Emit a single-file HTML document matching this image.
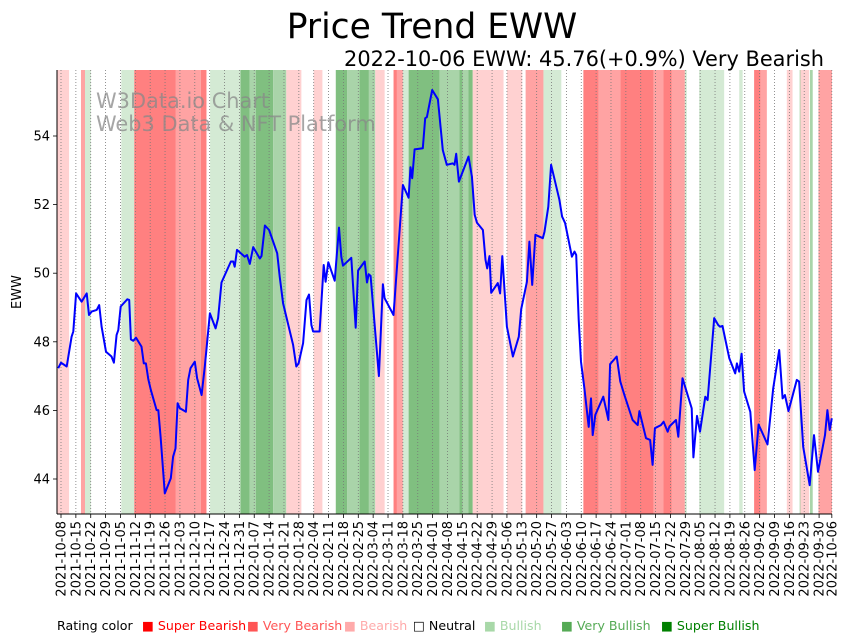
<!DOCTYPE html>
<html><head><meta charset="utf-8"><style>
body{margin:0;background:#fff;width:851px;height:641px;overflow:hidden;font-family:"DejaVu Sans","Liberation Sans",sans-serif}
svg{display:block}
</style></head><body>
<svg id="chart" width="851" height="641" xmlns="http://www.w3.org/2000/svg" font-family="DejaVu Sans, Liberation Sans, sans-serif">
<text x="432" y="38" text-anchor="middle" font-size="34.5">Price Trend EWW</text>
<text x="824" y="66" text-anchor="end" font-size="20.9">2022-10-06 EWW: 45.76(+0.9%) Very Bearish</text>
<g id="bands"></g>
<g id="grid"></g>
<g fill="#888" fill-opacity="0.75" font-size="20.9">
<text x="96" y="108">W3Data.io Chart</text>
<text x="96" y="131">Web3 Data &amp; NFT Platform</text>
</g>
<path id="line" fill="none" stroke="#0000ff" stroke-width="2" stroke-linejoin="round"/>
<g id="axes"></g>
<text transform="translate(21,292) rotate(-90)" text-anchor="middle" font-size="13">EWW</text>
<g font-size="12.6">
<text x="57" y="630" fill="#000">Rating color</text>
<text x="142" y="630" fill="#ff0000">■ Super Bearish</text>
<text x="247" y="630" fill="#ff5555">■ Very Bearish</text>
<text x="344" y="630" fill="#ffaaaa">■ Bearish</text>
<text x="413" y="630" fill="#000">□ Neutral</text>
<text x="484" y="630" fill="#a8d8a8">■ Bullish</text>
<text x="561" y="630" fill="#55aa55">■ Very Bullish</text>
<text x="661" y="630" fill="#008000">■ Super Bullish</text>
</g>
</svg>
<script>
// day offsets from 2021-10-08 and closing prices
const days=[-1.3,0,2.7,5.0,5.8,7.1,9.7,12.1,13.2,14.4,16.8,18.0,19.1,21.2,23.8,24.9,26.2,27.0,28.1,31.2,32.1,32.9,34.0,35.3,37.9,39.0,40.0,41.1,42.3,45.0,45.8,46.9,48.9,51.7,52.8,53.9,54.9,56.0,58.8,59.9,61.0,63.0,64.1,66.2,67.7,69.0,70.1,72.8,74.0,75.6,77.9,80.0,81.1,81.8,82.9,86.5,87.6,88.9,90.5,93.6,94.4,96.0,98.0,101.8,103.0,104.6,109.3,110.8,111.9,114.0,115.6,116.8,117.9,118.7,121.8,123.7,124.6,125.9,128.9,130.9,132.0,132.8,136.7,138.8,139.9,143.0,144.1,144.9,145.8,149.7,151.6,152.4,156.6,161.0,163.7,164.6,165.4,166.5,170.4,171.5,172.3,174.8,177.5,179.8,181.7,184.5,185.3,186.1,187.4,191.9,193.5,194.8,195.9,198.7,199.9,200.7,201.8,202.6,205.7,206.8,207.8,210.0,212.8,215.6,216.7,219.4,220.6,221.9,223.4,226.9,227.7,229.5,230.8,234.7,236.0,237.4,240.6,241.8,242.6,243.8,244.9,246.5,248.5,249.6,250.4,251.6,255.4,257.8,258.6,261.7,263.4,265.3,269.2,271.6,272.4,275.5,277.4,278.6,279.7,282.5,283.8,285.7,286.5,289.6,290.7,292.7,297.0,297.8,299.5,300.9,303.4,304.5,307.6,309.5,310.4,311.5,314.7,317.5,318.3,319.4,320.5,321.7,324.6,326.7,328.5,332.7,335.4,338.2,339.8,340.9,342.6,346.5,347.6,349.5,352.6,354.6,356.5,359.8,360.9,362.0,363.0];
const prices=[47.23,47.39,47.28,48.15,48.30,49.41,49.17,49.41,48.78,48.88,48.93,49.07,48.44,47.71,47.57,47.39,48.20,48.34,49.03,49.24,49.22,48.07,48.03,48.12,47.86,47.37,47.37,46.91,46.60,46.01,46.01,45.23,43.58,44.02,44.65,44.89,46.21,46.06,45.96,46.89,47.23,47.42,46.94,46.45,47.28,48.10,48.83,48.39,48.69,49.73,50.05,50.34,50.34,50.19,50.68,50.48,50.53,50.27,50.76,50.43,50.50,51.39,51.26,50.58,49.90,49.12,47.91,47.28,47.37,47.96,49.22,49.38,48.49,48.30,48.30,50.24,49.75,50.32,49.78,51.33,50.48,50.22,50.45,48.41,50.08,50.34,49.73,49.97,49.92,47.00,49.68,49.27,48.78,52.57,52.20,53.09,52.77,53.61,53.64,54.52,54.55,55.34,55.07,53.59,53.16,53.20,53.16,53.48,52.67,53.40,52.82,51.70,51.47,51.26,50.39,50.14,50.50,49.43,49.71,49.41,50.50,48.44,47.57,48.15,48.95,49.75,50.92,49.66,51.12,51.02,51.21,51.94,53.16,52.14,51.65,51.46,50.48,50.63,50.53,48.64,47.42,46.64,45.52,46.35,45.28,45.87,46.40,45.72,47.35,47.57,46.84,46.45,45.72,45.57,45.98,45.19,45.14,44.41,45.48,45.57,45.67,45.38,45.53,45.72,45.23,46.94,46.06,44.63,45.84,45.38,46.40,46.30,48.69,48.49,48.44,48.46,47.52,47.08,47.37,47.13,47.65,46.55,45.96,44.26,45.59,45.01,46.64,47.76,46.35,46.45,45.98,46.89,46.84,44.94,43.82,45.28,44.21,45.28,46.01,45.43,45.77];
// rating bands: start day, end day, rating (-3..3)
const bandStart=[-2,9.4,11.3,28.4,34.5,54.1,65.9,70.2,84.5,88.9,91.7,99.9,106.1,119,129.4,134.7,140.6,145,148,156.6,158.2,161,163.7,178.3,187.6,189.2,191.8,193.9,210,218.8,227.2,246,253.1,263.4,279,283.6,287.5,293.8,300.5,319.4,326.4,329.5,341.8,347.9,348.2,352.7,356.7];
const bandEnd=[3.8,11.3,14.1,34.5,54.1,65.9,68.5,84.5,88.9,91.7,99.9,106.1,113.2,123.1,134.7,140.6,145,148,152.4,158.2,161,163.7,178.3,187.6,189.2,191.8,193.9,208.4,217.2,227.2,235.6,253.1,263.4,279,283.6,287.5,293.8,294.7,312.3,321,329.5,332.4,344.5,348.2,352.3,354,365];
const bandRating=[-1,-2,1,1,-3,-2,-3,1,3,2,3,2,-1,-1,3,2,3,2,-1,-3,-2,1,3,2,3,2,3,-1,-1,-2,1,-3,-2,-3,-2,-3,-2,1,1,1,-3,-2,-1,3,-1,2,-2];
const yTicks=[44,46,48,50,52,54];
const tickDays=[0,7,14,21,28,35,42,49,56,63,70,77,84,91,98,105,112,119,126,133,140,147,154,161,168,175,182,189,196,203,210,217,224,231,238,245,252,259,266,273,280,287,294,301,308,315,322,329,336,343,350,357,363];
const tickLabels=["2021-10-08","2021-10-15","2021-10-22","2021-10-29","2021-11-05","2021-11-12","2021-11-19","2021-11-26","2021-12-03","2021-12-10","2021-12-17","2021-12-24","2021-12-31","2022-01-07","2022-01-14","2022-01-21","2022-01-28","2022-02-04","2022-02-11","2022-02-18","2022-02-25","2022-03-04","2022-03-11","2022-03-18","2022-03-25","2022-04-01","2022-04-08","2022-04-15","2022-04-22","2022-04-29","2022-05-06","2022-05-13","2022-05-20","2022-05-27","2022-06-03","2022-06-10","2022-06-17","2022-06-24","2022-07-01","2022-07-08","2022-07-15","2022-07-22","2022-07-29","2022-08-05","2022-08-12","2022-08-19","2022-08-26","2022-09-02","2022-09-09","2022-09-16","2022-09-23","2022-09-30","2022-10-06"];

const L=57,R=832,T=70,B=514;
const xs=d=>61+d*2.1235;
const ys=v=>479-(v-44)*34.3;
const colors={"-3":"#ff8080","-2":"#ffa3a3","-1":"#ffd1d1","1":"#d4ead4","2":"#a9d4a9","3":"#80bf80"};
const NS="http://www.w3.org/2000/svg";
function mk(tag,attrs,parent){const e=document.createElementNS(NS,tag);for(const k in attrs)e.setAttribute(k,attrs[k]);parent.appendChild(e);return e;}
const bandsG=document.getElementById('bands');
for(let i=0;i<bandStart.length;i++){
  const x0=Math.max(L,xs(bandStart[i])),x1=Math.min(R,xs(bandEnd[i]));
  const r=mk('rect',{x:x0,y:T,width:Math.max(0,x1-x0),height:B-T,fill:colors[bandRating[i]]},bandsG);
  
  
}
const gridG=document.getElementById('grid');
const axesG=document.getElementById('axes');
tickDays.forEach((d,i)=>{
  const x=xs(d);
  const g=mk('line',{x1:x,x2:x,y1:T,y2:B,stroke:'#777','stroke-width':0.8,'stroke-dasharray':'1,2'},gridG);
  
  
  mk('line',{x1:x,x2:x,y1:B,y2:B+4,stroke:'#000','stroke-width':0.8},axesG);
  const t=mk('text',{transform:`translate(${x+4.5},${B+7}) rotate(-90)`,'text-anchor':'end','font-size':13},axesG);
  
  
  t.textContent=tickLabels[i];
});
yTicks.forEach(v=>{
  const y=ys(v);
  mk('line',{x1:L-4,x2:L,y1:y,y2:y,stroke:'#000','stroke-width':0.8},axesG);
  const t=mk('text',{x:L-7,y:y+4.5,'text-anchor':'end','font-size':13},axesG);
  
  
  t.textContent=v;
});
mk('line',{x1:L,x2:L,y1:T,y2:B,stroke:'#000','stroke-width':1},axesG);
mk('line',{x1:L,x2:R,y1:B,y2:B,stroke:'#000','stroke-width':1},axesG);
let dstr='';
days.forEach((d,i)=>{dstr+=(i?'L':'M')+Math.max(L,xs(d)).toFixed(1)+','+ys(prices[i]).toFixed(1);});
document.getElementById('line').setAttribute('d',dstr);
</script>
</body></html>
